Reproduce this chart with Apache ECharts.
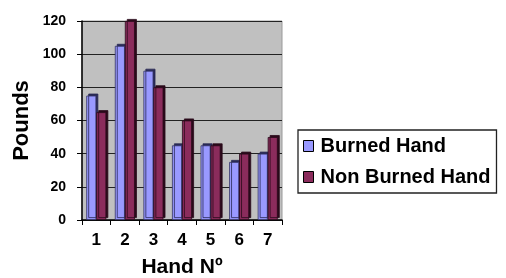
<!DOCTYPE html>
<html>
<head>
<meta charset="utf-8">
<script src="https://cdn.jsdelivr.net/npm/echarts@6/dist/echarts.min.js"></script>
<style>
  html, body { margin: 0; padding: 0; background: #fff; }
  #chart { width: 506px; height: 278px; }
</style>
</head>
<body>
<div id="chart"></div>
<script>
var hands = ['1', '2', '3', '4', '5', '6', '7'];
var burned = [75, 105, 90, 45, 45, 35, 40];
var nonBurned = [65, 120, 80, 60, 45, 40, 50];
var yTicks = [0, 20, 40, 60, 80, 100, 120];

var font = '"Liberation Sans", Arial, sans-serif';
var chart = echarts.init(document.getElementById('chart'));

var option = {
  backgroundColor: '#fff',
  textStyle: { fontFamily: font },
  grid: {
    left: 82,
    right: 224,
    top: 21,
    bottom: 58,
    outerBoundsMode: 'none',
    containLabel: false,
    show: true,
    backgroundColor: '#c0c0c0',
    borderColor: '#9a9a9a',
    borderWidth: 1
  },
  legend: {
    orient: 'vertical',
    left: 298,
    top: 130,
    padding: [6, 6, 6, 5],
    itemGap: 11,
    itemWidth: 10,
    itemHeight: 11,
    borderColor: '#222',
    borderWidth: 1.3,
    backgroundColor: '#fff',
    icon: 'rect',
    itemStyle: { borderColor: '#000', borderWidth: 1 },
    textStyle: { fontFamily: font, fontSize: 20, fontWeight: 'bold', color: '#000', padding: [0, 0, 0, 2] },
    data: ['Burned Hand', 'Non Burned Hand']
  },
  xAxis: {
    type: 'category',
    data: hands,
    name: 'Hand Nº',
    nameLocation: 'middle',
    nameGap: 37,
    nameTextStyle: { fontFamily: font, fontSize: 21, fontWeight: 'bold', color: '#000' },
    axisLine: { lineStyle: { color: '#000', width: 1.5 } },
    axisTick: { show: true, length: 5, lineStyle: { color: '#000' } },
    axisLabel: { fontFamily: font, fontSize: 17, fontWeight: 'bold', color: '#000', margin: 12 }
  },
  yAxis: {
    type: 'value',
    min: yTicks[0],
    max: yTicks[yTicks.length - 1],
    interval: 20,
    name: 'Pounds',
    nameLocation: 'middle',
    nameGap: 49,
    nameTextStyle: { fontFamily: font, fontSize: 22, fontWeight: 'bold', color: '#000' },
    axisLine: { show: true, lineStyle: { color: '#000', width: 1.5 } },
    axisTick: { show: true, length: 5, lineStyle: { color: '#000' } },
    axisLabel: { fontFamily: font, fontSize: 14, fontWeight: 'bold', color: '#000', margin: 16 },
    splitLine: { show: true, lineStyle: { color: '#222', width: 1.2 } }
  },
  series: [
    {
      name: 'Burned Hand',
      type: 'bar',
      data: burned,
      barWidth: 10,
      barGap: '0%',
      itemStyle: {
        color: '#9999ff',
        borderColor: '#333366',
        borderWidth: 0.8,
        shadowColor: '#2a2a55',
        shadowBlur: 0,
        shadowOffsetX: 2,
        shadowOffsetY: -2
      }
    },
    {
      name: 'Non Burned Hand',
      type: 'bar',
      data: nonBurned,
      barWidth: 10,
      itemStyle: {
        color: '#8b2c5c',
        borderColor: '#2a0a1a',
        borderWidth: 0.8,
        shadowColor: '#2a0a1a',
        shadowBlur: 0,
        shadowOffsetX: 2,
        shadowOffsetY: -2
      }
    }
  ]
};

chart.setOption(option);
</script>
</body>
</html>
